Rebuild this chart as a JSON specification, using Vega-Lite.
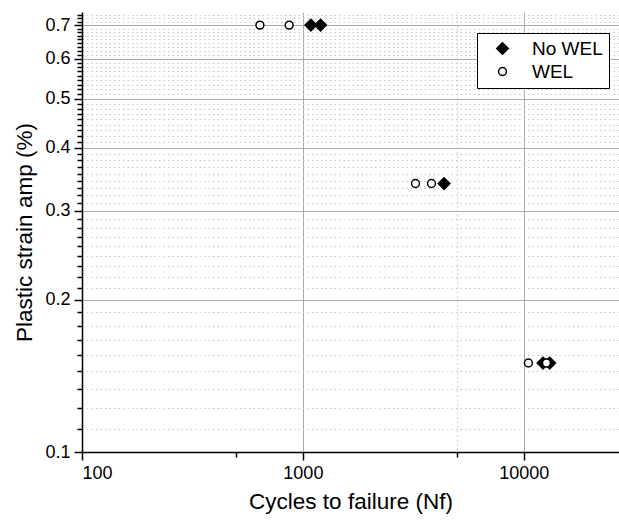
{
  "$schema": "https://vega.github.io/schema/vega-lite/v6.json",
  "width": 537,
  "height": 440,
  "autosize": "none",
  "padding": {"left": 82, "top": 12, "right": 0, "bottom": 69},
  "background": "white",
  "config": {
    "view": {"stroke": null},
    "font": "Liberation Sans",
    "axis": {
      "domainColor": "black",
      "domainWidth": 1.5,
      "tickColor": "black",
      "tickWidth": 1.5,
      "labelColor": "black",
      "titleColor": "black",
      "labelFont": "Liberation Sans",
      "titleFont": "Liberation Sans",
      "titleFontWeight": "normal"
    }
  },
  "data": {
    "values": [
      {"series": "No WEL", "cycles": 1087, "strain": 0.7},
      {"series": "No WEL", "cycles": 1202, "strain": 0.7},
      {"series": "No WEL", "cycles": 4358, "strain": 0.34},
      {"series": "No WEL", "cycles": 12230, "strain": 0.15},
      {"series": "No WEL", "cycles": 13110, "strain": 0.15},
      {"series": "WEL", "cycles": 639, "strain": 0.7},
      {"series": "WEL", "cycles": 867, "strain": 0.7},
      {"series": "WEL", "cycles": 3236, "strain": 0.34},
      {"series": "WEL", "cycles": 3822, "strain": 0.34},
      {"series": "WEL", "cycles": 10500, "strain": 0.15},
      {"series": "WEL", "cycles": 12670, "strain": 0.15}
    ]
  },
  "layer": [
    {
      "mark": {"type": "point", "opacity": 0},
      "encoding": {
        "x": {
          "field": "cycles", "type": "quantitative",
          "scale": {"type": "log", "domain": [100, 27000], "nice": false},
          "axis": {
            "orient": "bottom", "values": [500, 5000], "labels": false, "title": null,
            "tickSize": 5, "domain": false,
            "grid": true, "gridDash": [1.5, 3], "gridColor": "#c8c8c8",
            "gridOpacity": {"condition": {"test": "datum.value == 5000", "value": 1}, "value": 0}
          }
        },
        "y": {
          "field": "strain", "type": "quantitative",
          "scale": {"type": "log", "domain": [0.1, 0.743], "nice": false},
          "axis": {
            "orient": "left", "labels": false, "title": null, "tickSize": 5, "domain": false,
            "grid": true, "gridDash": [1.5, 3], "gridColor": "#c8c8c8",
            "values": [0.1111, 0.1222, 0.1333, 0.1444, 0.1556, 0.1667, 0.1778, 0.1889,
                       0.2111, 0.2222, 0.2333, 0.2444, 0.2556, 0.2667, 0.2778, 0.2889,
                       0.3111, 0.3222, 0.3333, 0.3444, 0.3556, 0.3667, 0.3778, 0.3889,
                       0.4111, 0.4222, 0.4333, 0.4444, 0.4556, 0.4667, 0.4778, 0.4889,
                       0.5111, 0.5222, 0.5333, 0.5444, 0.5556, 0.5667, 0.5778, 0.5889,
                       0.6111, 0.6222, 0.6333, 0.6444, 0.6556, 0.6667, 0.6778, 0.6889,
                       0.7111, 0.7222, 0.7333]
          }
        }
      }
    },
    {
      "mark": {"type": "point", "filled": true, "stroke": "black", "strokeWidth": 1.5, "opacity": 1},
      "encoding": {
        "x": {
          "field": "cycles", "type": "quantitative",
          "scale": {"type": "log", "domain": [100, 27000], "nice": false},
          "axis": {
            "orient": "bottom", "values": [100, 1000, 10000], "format": "d",
            "title": "Cycles to failure (Nf)", "titleFontSize": 22.5, "titlePadding": 8,
            "labelFontSize": 18, "labelPadding": 4, "tickSize": 8,
            "grid": true, "gridColor": "#aaaaaa", "gridWidth": 1
          }
        },
        "y": {
          "field": "strain", "type": "quantitative",
          "scale": {"type": "log", "domain": [0.1, 0.743], "nice": false},
          "axis": {
            "orient": "left", "values": [0.1, 0.2, 0.3, 0.4, 0.5, 0.6, 0.7], "format": ".1f",
            "title": "Plastic strain amp (%)", "titleFontSize": 22.5, "titlePadding": 8,
            "labelFontSize": 18, "labelPadding": 4, "tickSize": 8,
            "grid": true, "gridColor": "#aaaaaa", "gridWidth": 1
          }
        },
        "shape": {
          "field": "series", "type": "nominal",
          "scale": {"domain": ["No WEL", "WEL"], "range": ["diamond", "circle"]}
        },
        "fill": {
          "field": "series", "type": "nominal",
          "scale": {"domain": ["No WEL", "WEL"], "range": ["black", "white"]}
        },
        "size": {
          "field": "series", "type": "nominal",
          "scale": {"domain": ["No WEL", "WEL"], "range": [135, 62]},
          "legend": {
            "title": null, "orient": "none", "legendX": 395, "legendY": 21,
            "strokeColor": "black", "fillColor": "white", "padding": 6,
            "labelFontSize": 19, "labelColor": "black", "labelFont": "Liberation Sans",
            "symbolOffset": 10, "labelOffset": 20, "rowPadding": 3,
            "encode": {
              "symbols": {
                "update": {
                  "stroke": {"value": "black"},
                  "strokeWidth": {"value": 1.5}
                }
              }
            }
          }
        }
      }
    }
  ],
  "resolve": {"axis": {"x": "independent", "y": "independent"}}
}
